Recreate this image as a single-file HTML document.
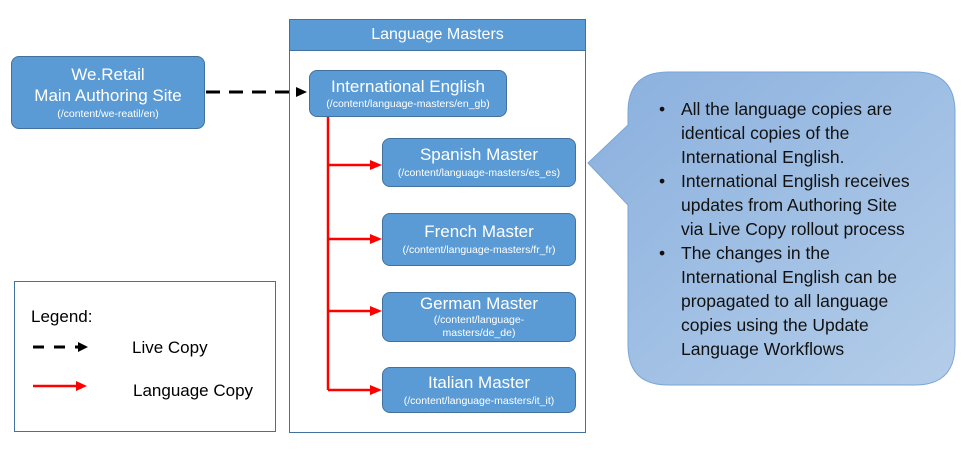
<!DOCTYPE html>
<html><head><style>
body{margin:0;width:975px;height:475px;background:#fff;position:relative;overflow:hidden;font-family:"Liberation Sans",sans-serif}
.b{position:absolute;background:#5b9bd5;border:1px solid #41719c;border-radius:8px;color:#fff;text-align:center;box-sizing:border-box;display:flex;flex-direction:column;justify-content:center}
.t{font-size:17px;line-height:19px}
.p{font-size:10.5px;line-height:13px}
.a{position:absolute}
</style></head><body>
<div class="a" style="left:289px;top:19px;width:297px;height:414px;border:1px solid #41719c;box-sizing:border-box"></div>
<div class="a" style="left:289px;top:19px;width:297px;height:32px;background:#5b9bd5;border:1px solid #41719c;box-sizing:border-box;color:#fff;font-size:16px;text-align:center;line-height:30px">Language Masters</div>
<div class="b" style="left:11px;top:56px;width:194px;height:73px"><div class="t" style="font-size:17px;line-height:21px">We.Retail<br>Main Authoring Site</div><div class="p" style="margin-top:2px">(/content/we-reatil/en)</div></div>
<div class="b" style="left:309px;top:70px;width:198px;height:47px"><div class="t" style="font-size:17px">International English</div><div class="p" style="margin-top:2px">(/content/language-masters/en_gb)</div></div>
<div class="b" style="left:382px;top:138px;width:194px;height:49px"><div class="t">Spanish Master</div><div class="p" style="margin-top:3px">(/content/language-masters/es_es)</div></div>
<div class="b" style="left:382px;top:213px;width:194px;height:53px"><div class="t">French Master</div><div class="p" style="margin-top:3px">(/content/language-masters/fr_fr)</div></div>
<div class="b" style="left:382px;top:292px;width:194px;height:50px;justify-content:flex-start;padding-top:1px"><div class="t">German Master</div><div class="p" style="margin-top:1px">(/content/language-<br>masters/de_de)</div></div>
<div class="b" style="left:382px;top:367px;width:194px;height:46px"><div class="t">Italian Master</div><div class="p" style="margin-top:3px">(/content/language-masters/it_it)</div></div>
<div class="a" style="left:14px;top:281px;width:262px;height:151px;border:1px solid #41719c;box-sizing:border-box"></div>
<div class="a" style="left:31px;top:307px;font-size:17px">Legend:</div>
<div class="a" style="left:132px;top:338px;font-size:17px">Live Copy</div>
<div class="a" style="left:133px;top:381px;font-size:17px">Language Copy</div>
<svg class="a" style="left:0;top:0" width="975" height="475">
<defs><linearGradient id="g" x1="0" y1="0" x2="1" y2="1"><stop offset="0" stop-color="#8ab0de"/><stop offset="1" stop-color="#b4cde9"/></linearGradient></defs>
<path d="M668 72 H915 Q955 72 955 112 V345 Q955 385 915 385 H668 Q628 385 628 345 V205 L588 163 L628 125 V112 Q628 72 668 72 Z" fill="url(#g)" stroke="#7aa6d8" stroke-width="1"/>
<line x1="206" y1="92" x2="296" y2="92" stroke="#000" stroke-width="3" stroke-dasharray="14,9"/>
<polygon points="296,87 307,92 296,97" fill="#000"/>
<g stroke="#f00" stroke-width="2.5" fill="none">
<path d="M328 117 V390"/>
<path d="M328 165 H372 M328 239 H372 M328 311 H372 M328 390 H372"/>
<path d="M33 386 H77"/>
</g>
<g fill="#f00">
<polygon points="370,160 382,165 370,170"/><polygon points="370,234 382,239 370,244"/>
<polygon points="370,306 382,311 370,316"/><polygon points="370,385 382,390 370,395"/>
<polygon points="76,381 87,386 76,391"/>
</g>
<line x1="33" y1="347" x2="78" y2="347" stroke="#000" stroke-width="3" stroke-dasharray="11,10"/>
<polygon points="78,342 88,347 78,352" fill="#000"/>
</svg>
<div class="a" style="left:659px;top:97px;width:300px;font-size:17.5px;line-height:24px;color:#111;white-space:nowrap">
<div style="position:relative;padding-left:22px"><span style="position:absolute;left:0">•</span>All the language copies are<br>identical copies of the<br>International English.</div>
<div style="position:relative;padding-left:22px"><span style="position:absolute;left:0">•</span>International English receives<br>updates from Authoring Site<br>via Live Copy rollout process</div>
<div style="position:relative;padding-left:22px"><span style="position:absolute;left:0">•</span>The changes in the<br>International English can be<br>propagated to all language<br>copies using the Update<br>Language Workflows</div>
</div>
</body></html>
